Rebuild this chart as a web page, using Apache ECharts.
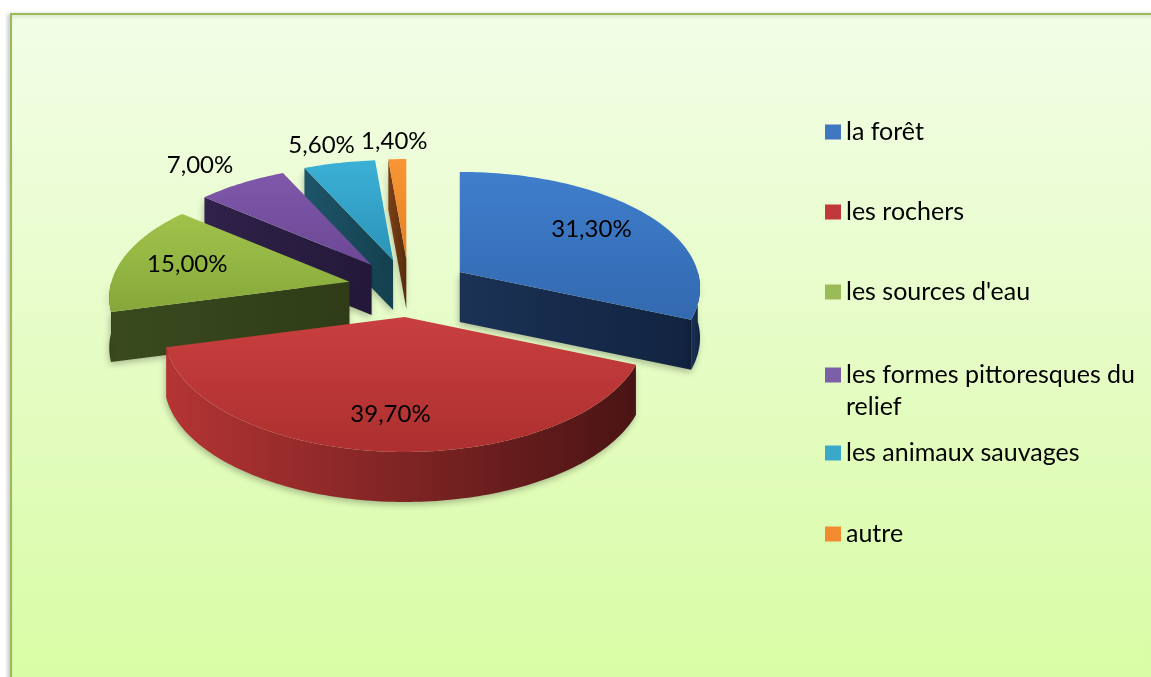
<!DOCTYPE html>
<html>
<head>
<meta charset="utf-8">
<script src="https://cdn.jsdelivr.net/npm/echarts@6/dist/echarts.min.js"></script>
<style>
  html, body { margin: 0; padding: 0; background: #fff; overflow: hidden; }
  #chart { width: 1151px; height: 677px; }
</style>
</head>
<body>
<div id="chart"></div>
<script>
const categories = ['la forêt', 'les rochers', "les sources d'eau", 'les formes pittoresques du relief', 'les animaux sauvages', 'autre'];
const values = [31.3, 39.7, 15.0, 7.0, 5.6, 1.4];

// colours: legend marker, top face (light, dark), walls (light, dark)
const markerColors = ['#4177c0', '#c0383a', '#9bbb59', '#7d5fa8', '#3aa8c8', '#f28a30'];
const topColors = [['#3f7ecc', '#3369b0'], ['#c93f3f', '#ad2f2f'], ['#a1c34b', '#86a83a'], ['#7f58aa', '#6c4895'], ['#3cb0d6', '#2b93b8'], ['#f89636', '#e5801f']];
const wallColors = [['#1b3255', '#112340'], ['#b53434', '#4a1414'], ['#3a4a1e', '#2f3c17'], ['#30224a', '#231839'], ['#1d5568', '#14404f'], ['#7a4016', '#5a2c0c']];

// back-to-front drawing order
const drawOrder = [5, 4, 3, 0, 2, 1];

const total = values.reduce((a, b) => a + b, 0);
const starts = [];
values.reduce((acc, v, i) => { starts[i] = acc / total * Math.PI * 2; return acc + v; }, 0);

const chart = echarts.init(document.getElementById('chart'));

// pie geometry (tilted, slight perspective)
const CX = 409, CY = 288;
const RX = 238, RX_P = 33;
const RY = 117.5, RY_P = 17.5;
const H = 50;
const EXP_X = 61, EXP_Y = 29;
const FONT = 'Lato, "Open Sans", sans-serif';

function rimPoint(t, ox, oy, dz) {
  const c = Math.cos(t), s = Math.sin(t);
  const rx = RX - RX_P * c, ry = RY - RY_P * c;
  return [CX + ox + rx * s, CY + oy - ry * c + dz];
}

function arc(a, b, ox, oy, dz) {
  const n = Math.max(2, Math.ceil((b - a) / 0.02));
  const pts = [];
  for (let k = 0; k <= n; k++) pts.push(rimPoint(a + (b - a) * k / n, ox, oy, dz));
  return pts;
}

function fmt(v) {
  return v.toFixed(2).replace('.', ',') + '%';
}

function renderSlice(params, api) {
  const i = params.seriesIndex;
  const v = api.value(0);
  const s = starts[i];
  const e = s + v / total * Math.PI * 2;
  const m = (s + e) / 2;
  const ox = EXP_X * Math.sin(m), oy = -EXP_Y * Math.cos(m);
  const apex = [CX + ox, CY + oy];
  const apexB = [apex[0], apex[1] + H];
  const wallFill = new echarts.graphic.LinearGradient(0, 0, 1, 0, [
    { offset: 0, color: wallColors[i][0] },
    { offset: 1, color: wallColors[i][1] }
  ]);
  const wallStyle = { fill: wallFill, shadowColor: 'rgba(0,0,0,0.25)', shadowBlur: 6, shadowOffsetX: -1, shadowOffsetY: 3 };
  const children = [];

  // radial walls
  if (Math.sin(s) < -0.01) {
    const p = rimPoint(s, ox, oy, 0);
    children.push({ type: 'polygon', shape: { points: [apex, p, [p[0], p[1] + H], apexB] }, style: wallStyle });
  }
  if (Math.sin(e) > 0.01) {
    const p = rimPoint(e, ox, oy, 0);
    children.push({ type: 'polygon', shape: { points: [apex, p, [p[0], p[1] + H], apexB] }, style: wallStyle });
  }

  // outer curved wall (front half only)
  const a = Math.max(s, Math.PI / 2), b = Math.min(e, Math.PI * 1.5);
  if (b > a) {
    const topPts = arc(a, b, ox, oy, 0);
    const botPts = arc(a, b, ox, oy, H).reverse();
    children.push({ type: 'polygon', shape: { points: topPts.concat(botPts) }, style: wallStyle });
  }

  // top face
  children.push({
    type: 'polygon',
    shape: { points: [apex].concat(arc(s, e, ox, oy, 0)) },
    style: {
      fill: new echarts.graphic.LinearGradient(0, 0, 0, 1, [
        { offset: 0, color: topColors[i][0] },
        { offset: 1, color: topColors[i][1] }
      ])
    }
  });

  // data label
  const rim = rimPoint(m, ox, oy, 0);
  let lx, ly, vAlign;
  if (v >= 10) {
    lx = apex[0] + (rim[0] - apex[0]) * 0.72;
    ly = apex[1] + (rim[1] - apex[1]) * 0.72;
    vAlign = 'middle';
  } else {
    lx = rim[0] + 68 * Math.sin(m);
    ly = rim[1] - 6;
    vAlign = 'bottom';
  }
  children.push({
    type: 'text',
    z2: 100,
    style: { text: fmt(v), x: lx, y: ly, align: 'center', verticalAlign: vAlign, font: '24px ' + FONT, fill: '#000' }
  });

  return { type: 'group', children: children };
}

const series = categories.map((name, i) => ({
  name: name,
  type: 'custom',
  coordinateSystem: 'none',
  z: 2 + drawOrder.indexOf(i),
  itemStyle: { color: markerColors[i] },
  renderItem: renderSlice,
  data: [[values[i]]]
}));

const legendBase = {
  orient: 'vertical',
  left: 825,
  padding: 0,
  itemWidth: 16,
  itemHeight: 15,
  icon: 'rect',
  selectedMode: false,
  textStyle: { fontFamily: FONT, fontSize: 25, color: '#000', lineHeight: 30 }
};

const option = {
  animation: false,
  backgroundColor: '#fff',
  // chart area frame (continues past the right and bottom edges)
  graphic: [{
    type: 'rect',
    z: -10,
    silent: true,
    shape: { x: 11, y: 14, width: 1200, height: 700 },
    style: {
      fill: new echarts.graphic.LinearGradient(0, 0, 0, 1, [
        { offset: 0, color: '#f3fde7' },
        { offset: 1, color: '#d7fca1' }
      ]),
      stroke: '#9bbb59',
      lineWidth: 2,
      shadowColor: 'rgba(0,0,0,0.2)',
      shadowBlur: 4,
      shadowOffsetX: -2,
      shadowOffsetY: 1
    }
  }],
  legend: [
    Object.assign({}, legendBase, { top: 117, itemGap: 50, data: categories.slice(0, 3) }),
    // wrapped entry: an empty first line keeps the marker level with the first text line
    Object.assign({}, legendBase, {
      top: 327,
      data: categories.slice(3, 4),
      textStyle: Object.assign({}, legendBase.textStyle, { lineHeight: 32 }),
      formatter: name => '\n' + name.replace(' relief', '\nrelief')
    }),
    Object.assign({}, legendBase, { top: 438, itemGap: 51, data: categories.slice(4) })
  ],
  series: series
};

chart.setOption(option);
</script>
</body>
</html>
